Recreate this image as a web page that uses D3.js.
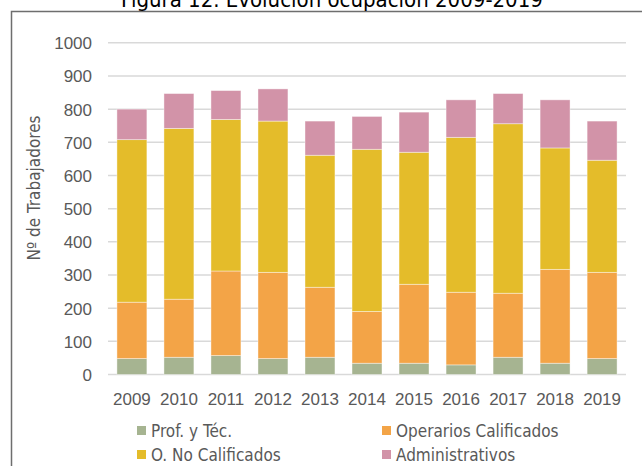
<!DOCTYPE html>
<html>
<head>
<meta charset="utf-8">
<script src="https://cdn.jsdelivr.net/npm/d3@7"></script>
<style>
  body { margin: 0; background: #fff; }
  svg { display: block; font-family: "DejaVu Sans Condensed", "DejaVu Sans", sans-serif; }
  .tick text { fill: #595959; font-size: 17px; }
</style>
</head>
<body>
<div id="chart"></div>
<script>
var years = ['2009', '2010', '2011', '2012', '2013', '2014', '2015', '2016', '2017', '2018', '2019'];
var seriesNames = ['Prof. y Téc.', 'Operarios Calificados', 'O. No Calificados', 'Administrativos'];
var profTec = [48, 52, 57, 48, 52, 34, 34, 29, 52, 34, 48];
var operarios = [170, 175, 255, 260, 211, 156, 238, 219, 193, 283, 260];
var noCalificados = [490, 515, 457, 456, 398, 489, 398, 467, 511, 366, 338];
var administrativos = [92, 105, 87, 97, 103, 99, 121, 113, 91, 145, 118];
var yTicks = [0, 100, 200, 300, 400, 500, 600, 700, 800, 900, 1000];

var colors = ['#a6b491', '#f3a447', '#e4bc2a', '#d293a8'];

var width = 642, height = 466;

var rows = years.map(function (y, i) {
  return {
    year: y,
    'Prof. y Téc.': profTec[i],
    'Operarios Calificados': operarios[i],
    'O. No Calificados': noCalificados[i],
    'Administrativos': administrativos[i]
  };
});

var svg = d3.select('#chart')
  .append('svg')
  .attr('width', width)
  .attr('height', height);

// chart frame (cropped at right and bottom)
svg.append('rect')
  .attr('x', 11.5)
  .attr('y', 11.5)
  .attr('width', 640)
  .attr('height', 470)
  .attr('fill', 'none')
  .attr('stroke', '#6e6e6e')
  .attr('stroke-width', 1.5);

// title, partly above the visible area like in the source image
svg.append('text')
  .attr('x', 332)
  .attr('y', 7)
  .attr('text-anchor', 'middle')
  .attr('font-size', 22)
  .attr('fill', '#000')
  .text('Figura 12. Evolución ocupación 2009-2019');

var x = d3.scaleBand()
  .domain(years)
  .range([108, 626])
  .paddingInner(0.363)
  .paddingOuter(0.19);

var y = d3.scaleLinear()
  .domain([0, 1000])
  .range([374.5, 42.8]);

// gridlines
svg.append('g')
  .selectAll('line')
  .data(yTicks)
  .enter()
  .append('line')
  .attr('x1', 108)
  .attr('x2', 626)
  .attr('y1', function (d) { return y(d); })
  .attr('y2', function (d) { return y(d); })
  .attr('stroke', '#d9d9d9')
  .attr('stroke-width', 1.5);

var stacked = d3.stack().keys(seriesNames)(rows);

svg.append('g')
  .selectAll('g')
  .data(stacked)
  .enter()
  .append('g')
  .attr('fill', function (d, i) { return colors[i]; })
  .selectAll('rect')
  .data(function (d) { return d; })
  .enter()
  .append('rect')
  .attr('x', function (d) { return x(d.data.year); })
  .attr('width', x.bandwidth())
  .attr('y', function (d) { return y(d[1]); })
  .attr('height', function (d) { return y(d[0]) - y(d[1]); })
  .attr('stroke', '#ffffff')
  .attr('stroke-opacity', 0.5)
  .attr('stroke-width', 0.8);

var yAxis = svg.append('g')
  .attr('transform', 'translate(92,0)')
  .call(d3.axisLeft(y).tickValues(yTicks).tickFormat(d3.format('d')).tickSize(0).tickPadding(0));
yAxis.select('.domain').remove();
yAxis.selectAll('text').attr('dy', '0.35em');

var xAxis = svg.append('g')
  .attr('transform', 'translate(0,391)')
  .call(d3.axisBottom(x).tickSize(0).tickPadding(0));
xAxis.select('.domain').remove();
xAxis.selectAll('text').attr('dy', '0.8em');

svg.append('text')
  .attr('transform', 'translate(40,188) rotate(-90)')
  .attr('text-anchor', 'middle')
  .attr('font-size', 17)
  .attr('fill', '#595959')
  .text('Nº de Trabajadores');

// legend, 2 columns
var legendX = [137, 382];
var legendY = [431, 455];
var legend = svg.append('g')
  .selectAll('g')
  .data(seriesNames)
  .enter()
  .append('g')
  .attr('transform', function (d, i) {
    return 'translate(' + legendX[i % 2] + ',' + legendY[Math.floor(i / 2)] + ')';
  });

legend.append('rect')
  .attr('x', 0)
  .attr('y', -5)
  .attr('width', 9)
  .attr('height', 9)
  .attr('fill', function (d, i) { return colors[i]; });

legend.append('text')
  .attr('x', 14)
  .attr('y', 0)
  .attr('dy', '0.35em')
  .attr('font-size', 17)
  .attr('fill', '#595959')
  .text(function (d) { return d; });
</script>
</body>
</html>
